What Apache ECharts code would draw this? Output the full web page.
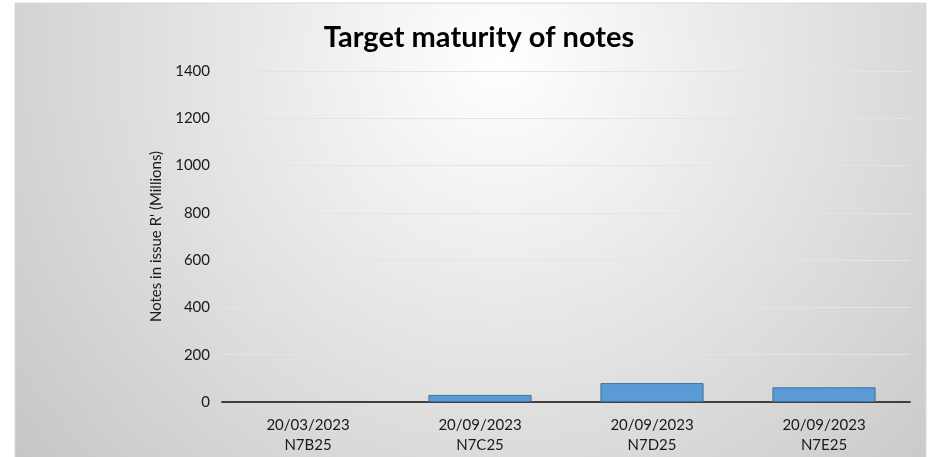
<!DOCTYPE html>
<html>
<head>
<meta charset="utf-8">
<script src="https://cdn.jsdelivr.net/npm/echarts@6/dist/echarts.min.js"></script>
<style>
html,body{margin:0;padding:0;background:#fff;}
#chart{width:932px;height:457px;}
</style>
</head>
<body>
<div id="chart"></div>
<script>
const titleText = 'Target maturity of notes';
const yAxisName = "Notes in issue R' (Millions)";
const maturityDates = ['20/03/2023', '20/09/2023', '20/09/2023', '20/09/2023'];
const noteCodes = ['N7B25', 'N7C25', 'N7D25', 'N7E25'];
const notesInIssue = [0, 30, 80, 62];
const yTicks = [0, 200, 400, 600, 800, 1000, 1200, 1400];

const categories = maturityDates.map((d, i) => d + '\n' + noteCodes[i]);

const chart = echarts.init(document.getElementById('chart'), null, {renderer: 'canvas'});
chart.setOption({
  backgroundColor: '#ffffff',
  animation: false,
  graphic: [{
    type: 'rect',
    z: -10,
    silent: true,
    shape: {x: 15, y: 3, width: 911, height: 460},
    style: {
      fill: new echarts.graphic.RadialGradient(500, 60, 650, [
        {offset: 0, color: '#ffffff'},
        {offset: 1, color: '#c4c4c4'}
      ], true),
      stroke: '#d9d9d9',
      lineWidth: 1
    }
  }],
  title: {
    text: titleText,
    left: 474,
    top: 18,
    textAlign: 'center',
    textStyle: {fontFamily: 'Lato', fontWeight: 'bold', fontSize: 29, color: '#000000'}
  },
  grid: {left: 222, right: 22, top: 71, bottom: 55, containLabel: false},
  xAxis: {
    type: 'category',
    data: categories,
    axisLine: {show: true, lineStyle: {color: '#404040', width: 2}},
    axisTick: {show: false},
    axisLabel: {
      color: '#1a1a1a', fontFamily: 'Lato', fontSize: 15, lineHeight: 20, margin: 13
    }
  },
  yAxis: {
    type: 'value',
    min: yTicks[0],
    max: yTicks[yTicks.length - 1],
    interval: 200,
    name: yAxisName,
    nameLocation: 'middle',
    nameGap: 58,
    nameTextStyle: {color: '#1a1a1a', fontFamily: 'Lato', fontSize: 15},
    axisLine: {show: false},
    axisTick: {show: false},
    axisLabel: {color: '#1a1a1a', fontFamily: 'Lato', fontSize: 15, margin: 12, formatter: v => String(v)},
    splitLine: {lineStyle: {color: '#e4e4e4', width: 1}}
  },
  series: [{
    type: 'bar',
    data: notesInIssue.map(v => v === 0 ? {value: v, itemStyle: {borderWidth: 0}} : v),
    barWidth: '60%',
    itemStyle: {color: '#5b9bd5', borderColor: '#41719c', borderWidth: 1}
  }]
});
</script>
</body>
</html>
